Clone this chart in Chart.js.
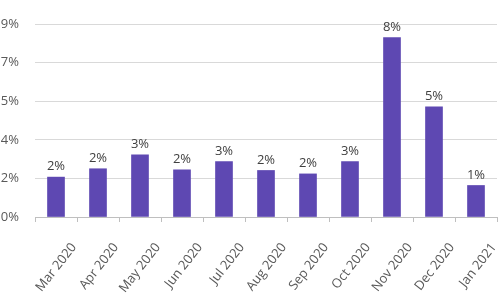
<!DOCTYPE html>
<html>
<head>
<meta charset="utf-8">
<script src="https://cdn.jsdelivr.net/npm/chart.js@4"></script>
<style>
  html, body { margin: 0; padding: 0; background: #ffffff; }
  #wrap { width: 500px; height: 300px; }
</style>
</head>
<body>
<div id="wrap"><canvas id="c" width="500" height="300"></canvas></div>
<script>
const categories = ["Mar 2020", "Apr 2020", "May 2020", "Jun 2020", "Jul 2020", "Aug 2020", "Sep 2020", "Oct 2020", "Nov 2020", "Dec 2020", "Jan 2021"];
const shareValues = [1.86, 2.25, 2.9, 2.2, 2.59, 2.17, 2.01, 2.59, 8.37, 5.14, 1.47];
const yTickValues = [0, 1.8, 3.6, 5.4, 7.2, 9.0];

const FONT = "'Open Sans', 'Liberation Sans', sans-serif";

const valueLabels = {
  id: 'valueLabels',
  afterDatasetsDraw(chart) {
    const ctx = chart.ctx;
    const meta = chart.getDatasetMeta(0);
    ctx.save();
    ctx.font = "13px " + FONT;
    ctx.fillStyle = '#404040';
    ctx.textAlign = 'center';
    ctx.textBaseline = 'bottom';
    meta.data.forEach((bar, i) => {
      const v = chart.data.datasets[0].data[i];
      ctx.fillText(Math.round(v) + '%', bar.x, bar.y - 4);
    });
    ctx.restore();
  }
};

new Chart(document.getElementById('c'), {
  type: 'bar',
  data: {
    labels: categories,
    datasets: [{
      data: shareValues,
      backgroundColor: '#5E48B2',
      borderWidth: 0,
      barThickness: 17
    }]
  },
  options: {
    responsive: false,
    animation: false,
    devicePixelRatio: 1,
    layout: { padding: { top: 24, right: 3, left: 0, bottom: 0 } },
    plugins: {
      legend: { display: false },
      tooltip: { enabled: false }
    },
    scales: {
      x: {
        offset: true,
        grid: {
          display: true,
          drawOnChartArea: false,
          drawTicks: true,
          tickLength: 5,
          color: '#bfbfbf',
          offset: true
        },
        border: { display: true, color: '#bfbfbf', width: 1 },
        ticks: {
          font: { family: FONT, size: 13 },
          color: '#595959',
          minRotation: 52,
          maxRotation: 52,
          autoSkip: false,
          padding: 18,
          labelOffset: 18
        },
        afterFit(scale) {
          scale.height = 83;
          scale.paddingLeft = 0;
          scale.paddingRight = 0;
        }
      },
      y: {
        min: 0,
        max: 9,
        afterBuildTicks(scale) {
          scale.ticks = yTickValues.map(v => ({ value: v }));
        },
        grid: {
          color: '#d9d9d9',
          drawTicks: false,
          lineWidth: 1
        },
        border: { display: false },
        ticks: {
          font: { family: FONT, size: 13 },
          color: '#595959',
          padding: 16,
          callback: v => Math.round(v) + '%'
        },
        afterFit(scale) {
          scale.width = 35;
          scale.paddingTop = 0;
          scale.paddingBottom = 0;
        }
      }
    }
  },
  plugins: [valueLabels]
});
</script>
</body>
</html>
